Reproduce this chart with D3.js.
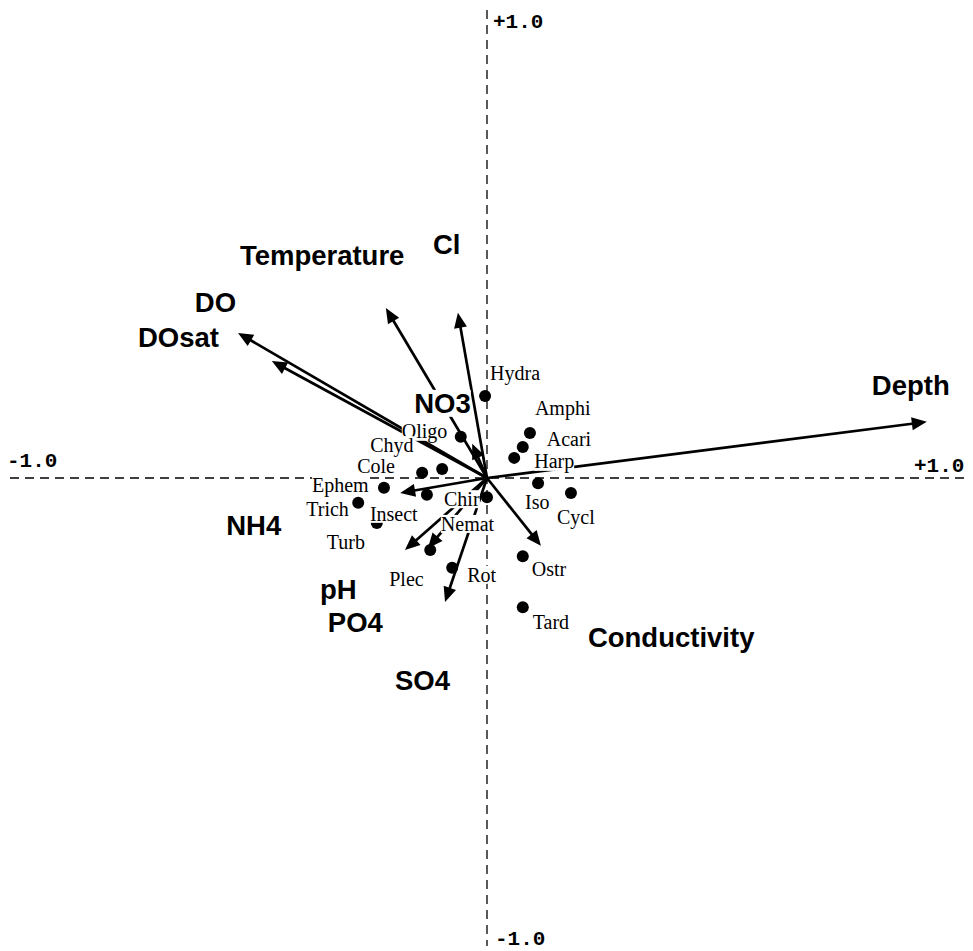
<!DOCTYPE html>
<html>
<head>
<meta charset="utf-8">
<script src="https://cdn.jsdelivr.net/npm/d3@7"></script>
<style>
  html, body { margin: 0; padding: 0; background: #fff; }
  svg { display: block; }
</style>
</head>
<body>
<script>
// CCA biplot: environmental variables as arrows, taxa as points.

// Environmental variables (biplot scores on axes 1 and 2)
const envNames = ["Depth", "DOsat", "DO", "Temperature", "Cl", "NO3", "NH4", "pH", "PO4", "SO4", "Conductivity"];
const envAxis1 = [0.922, -0.522, -0.451, -0.212, -0.061, -0.031, -0.182, -0.172, -0.124, -0.088, 0.113];
const envAxis2 = [0.120, 0.310, 0.250, 0.363, 0.353, 0.073, -0.032, -0.154, -0.150, -0.265, -0.145];

// Taxa (species scores on axes 1 and 2)
const taxaNames = ["Hydra", "Amphi", "Acari", "Harp", "Oligo", "Chyd", "Cole", "Ephem", "Trich", "Insect",
                   "Turb", "Chir", "Nemat", "Plec", "Rot", "Iso", "Cycl", "Ostr", "Tard"];
const taxaAxis1 = [-0.004, 0.090, 0.075, 0.057, -0.055, -0.094, -0.136, -0.216, -0.270, -0.126,
                   -0.231, 0.000, -0.036, -0.119, -0.073, 0.107, 0.176, 0.075, 0.075];
const taxaAxis2 = [0.175, 0.096, 0.066, 0.043, 0.088, 0.019, 0.011, -0.021, -0.053, -0.036,
                   -0.096, -0.041, -0.096, -0.154, -0.192, -0.011, -0.032, -0.167, -0.276];

// Axis end labels
const axisTickLabels = { xMin: "-1.0", xMax: "+1.0", yMin: "-1.0", yMax: "+1.0" };

// Label placement (pixel offsets of text start / baseline from the mark)
const envLabelOffset = {
  Depth: [-55, -27], DOsat: [-100, 14], DO: [-77, -49], Temperature: [-146, -43], Cl: [-25, -59],
  NO3: [-58, -31], NH4: [-174, 42], pH: [-85, 49], PO4: [-100, 84], SO4: [-50, 88], Conductivity: [47, 101]
};
const taxaLabelOffset = {
  Hydra: [5, -16], Amphi: [5, -18], Acari: [24, -1], Harp: [20, 10], Oligo: [-59, 1], Chyd: [-72, -17],
  Cole: [-65, 0], Ephem: [-72, 4], Trich: [-52, 13], Insect: [-57, 26], Turb: [-50, 26], Chir: [-43, 9],
  Nemat: [-29, 8], Plec: [-41, 36], Rot: [15, 14], Iso: [-13, 26], Cycl: [-14, 31], Ostr: [9, 20], Tard: [10, 22]
};

const W = 973, H = 951;
const svg = d3.select("body").append("svg").attr("width", W).attr("height", H);

const x = d3.scaleLinear().domain([-1, 1]).range([10, 964]);
const y = d3.scaleLinear().domain([-1, 1]).range([946, 10]);

const env = envNames.map((n, i) => ({ name: n, a1: envAxis1[i], a2: envAxis2[i] }));
const taxa = taxaNames.map((n, i) => ({ name: n, a1: taxaAxis1[i], a2: taxaAxis2[i] }));

// Dashed zero axes
const axes = svg.append("g").attr("stroke", "#000").attr("stroke-width", 1.3)
  .attr("stroke-dasharray", "9,6").attr("fill", "none");
axes.append("line").attr("x1", x(-1)).attr("x2", x(1)).attr("y1", y(0)).attr("y2", y(0));
axes.append("line").attr("x1", x(0)).attr("x2", x(0)).attr("y1", y(1)).attr("y2", y(-1));

const mono = svg.append("g").attr("font-family", "'Liberation Mono', 'DejaVu Sans Mono', monospace")
  .attr("font-size", 21).attr("font-weight", "bold").attr("fill", "#000");
mono.append("text").attr("x", x(-1) - 3).attr("y", y(0) - 11).text(axisTickLabels.xMin);
mono.append("text").attr("x", x(1) - 50).attr("y", y(0) - 6).text(axisTickLabels.xMax);
mono.append("text").attr("x", x(0) + 6).attr("y", y(1) + 18).text(axisTickLabels.yMax);
mono.append("text").attr("x", x(0) + 8).attr("y", y(-1) - 1).text(axisTickLabels.yMin);

// Arrows
const headLen = 15, headHalf = 6.5;
const arrows = svg.append("g");
env.forEach(d => {
  const x0 = x(0), y0 = y(0), x1 = x(d.a1), y1 = y(d.a2);
  const dx = x1 - x0, dy = y1 - y0, len = Math.hypot(dx, dy);
  const ux = dx / len, uy = dy / len;
  const bx = x1 - ux * headLen, by = y1 - uy * headLen;
  arrows.append("line").attr("x1", x0).attr("y1", y0).attr("x2", bx + ux * 2).attr("y2", by + uy * 2)
    .attr("stroke", "#000").attr("stroke-width", 2.7);
  arrows.append("path")
    .attr("d", `M${x1},${y1}L${bx - uy * headHalf},${by + ux * headHalf}L${bx + uy * headHalf},${by - ux * headHalf}Z`)
    .attr("fill", "#000");
});

// Taxa points
svg.append("g").selectAll("circle").data(taxa).join("circle")
  .attr("cx", d => x(d.a1)).attr("cy", d => y(d.a2)).attr("r", 6).attr("fill", "#000");

// Labels with white backing
function addLabel(g, px, py, txt) {
  const t = g.append("text").attr("x", px).attr("y", py).text(txt);
  const b = t.node().getBBox();
  g.insert("rect", () => t.node())
    .attr("x", b.x).attr("y", b.y + 2).attr("width", b.width).attr("height", b.height - 4)
    .attr("fill", "#fff");
}

const taxaLabels = svg.append("g").attr("font-family", "'Liberation Serif', 'Times New Roman', serif")
  .attr("font-size", 20).attr("fill", "#000");
taxa.forEach(d => {
  const o = taxaLabelOffset[d.name];
  addLabel(taxaLabels, x(d.a1) + o[0], y(d.a2) + o[1], d.name);
});

const envLabels = svg.append("g").attr("font-family", "'Liberation Sans', Arial, sans-serif")
  .attr("font-weight", "bold").attr("font-size", 27.5).attr("fill", "#000");
env.forEach(d => {
  const o = envLabelOffset[d.name];
  addLabel(envLabels, x(d.a1) + o[0], y(d.a2) + o[1], d.name);
});
</script>
</body>
</html>
